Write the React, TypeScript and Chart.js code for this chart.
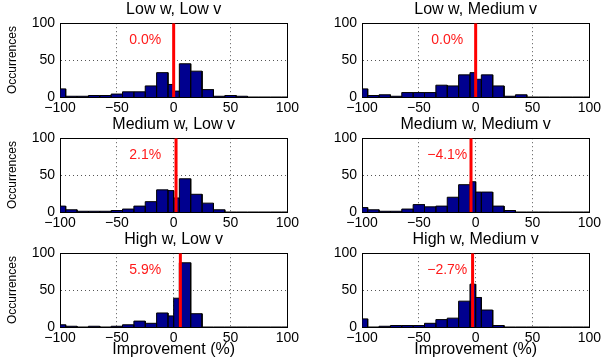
import React, { useEffect, useRef } from "react";
import { Chart, registerables } from "chart.js";
Chart.register(...registerables);

// Histogram bin edges (%), shared by every panel
const binEdges = [-100, -95, -85, -75, -65, -55, -45, -35, -25, -15, -5, 0, 5, 15, 25, 35, 45, 55, 65, 75, 85, 95, 100];

const panelTitles = [
  "Low w, Low v",
  "Low w, Medium v",
  "Medium w, Low v",
  "Medium w, Medium v",
  "High w, Low v",
  "High w, Medium v",
];

// Occurrences per bin
const countsLowWLowV = [11, 1, 1, 2, 2, 4, 7, 7, 15, 33, 17, 8, 45, 35, 10, 1, 2, 1, 0, 0, 0, 0];
const countsLowWMediumV = [11, 2, 3, 1, 6, 6, 6, 16, 15, 30, 33, 24, 30, 15, 1, 3, 0, 0, 0, 0, 0, 0];
const countsMediumWLowV = [8, 3, 1, 1, 1, 2, 4, 8, 14, 30, 29, 19, 45, 24, 12, 3, 0, 0, 0, 0, 0, 0];
const countsMediumWMediumV = [6, 3, 1, 1, 4, 10, 7, 8, 20, 37, 41, 27, 27, 8, 2, 0, 0, 0, 0, 0, 0, 0];
const countsHighWLowV = [3, 1, 0, 1, 0, 1, 3, 8, 5, 19, 15, 39, 87, 18, 0, 0, 0, 0, 0, 0, 0, 0];
const countsHighWMediumV = [11, 0, 1, 2, 2, 2, 5, 10, 12, 35, 58, 40, 23, 2, 0, 0, 0, 0, 0, 0, 0, 0];

const panelCounts = [
  countsLowWLowV,
  countsLowWMediumV,
  countsMediumWLowV,
  countsMediumWMediumV,
  countsHighWLowV,
  countsHighWMediumV,
];

// Mean improvement (%) shown by the red line and label
const meanImprovement = [0.0, 0.0, 2.1, -4.1, 5.9, -2.7];

const xTicks = [-100, -50, 0, 50, 100];
const yTicks = [0, 50, 100];
const xGridValues = [-50, 0, 50];
const yGridValues = [50];

const FONT = '"Liberation Sans", Arial, Helvetica, sans-serif';
const BAR_FILL = "#00008F";

function fmt(v: number): string {
  const s = Math.abs(v).toFixed(0);
  return v < 0 ? "\u2212" + s : s;
}
function fmtPct(v: number): string {
  const s = Math.abs(v).toFixed(1) + "%";
  return v < 0 ? "\u2212" + s : s;
}

function histPoints(counts: number[]) {
  const pts: { x: number; y: number }[] = [];
  counts.forEach((c, i) => {
    const a = binEdges[i];
    const b = binEdges[i + 1];
    pts.push({ x: a, y: 0 }, { x: a, y: c }, { x: b, y: c }, { x: b, y: 0 });
  });
  return pts;
}

const meanLabelPlugin = {
  id: "meanLabel",
  afterDatasetsDraw(chart: any, _args: any, opts: any) {
    const { ctx, scales } = chart;
    const x = scales.x;
    const y = scales.y;
    ctx.save();
    ctx.fillStyle = "#ff1a1a";
    ctx.font = "14px " + FONT;
    ctx.textAlign = "center";
    ctx.textBaseline = "middle";
    ctx.fillText(opts.text, x.getPixelForValue(opts.x), y.getPixelForValue(opts.y));
    ctx.restore();
  },
};

type PanelProps = {
  index: number;
  left: number;
  top: number;
  width: number;
  height: number;
  showYTitle: boolean;
  showXTitle: boolean;
};

function Panel({ index, left, top, width, height, showYTitle, showXTitle }: PanelProps) {
  const ref = useRef<HTMLCanvasElement | null>(null);

  useEffect(() => {
    if (!ref.current) return;
    const mean = meanImprovement[index];
    const xAxisHeight = showXTitle ? 35 : 18;
    const chart = new Chart(ref.current, {
      type: "line",
      data: {
        datasets: [
          {
            label: "mean",
            data: [
              { x: mean, y: 0 },
              { x: mean, y: 100 },
            ],
            borderColor: "#ff0000",
            borderWidth: 3,
            pointRadius: 0,
            fill: false,
            order: 1,
          },
          {
            label: "hist",
            data: histPoints(panelCounts[index]),
            borderColor: "#000000",
            borderWidth: 1,
            backgroundColor: BAR_FILL,
            pointRadius: 0,
            tension: 0,
            fill: "origin",
            order: 2,
          },
        ],
      },
      options: {
        responsive: false,
        animation: false,
        devicePixelRatio: 1,
        layout: { padding: { left: 0, right: 14, top: 0, bottom: 0 } },
        plugins: {
          legend: { display: false },
          tooltip: { enabled: false },
          title: {
            display: true,
            text: panelTitles[index],
            fullSize: false,
            color: "#000",
            font: { family: FONT, size: 16, weight: "normal" },
            padding: { top: 0, bottom: 4 },
          },
          meanLabel: { text: fmtPct(mean), x: -25, y: 77 },
        } as any,
        scales: {
          x: {
            type: "linear",
            position: "bottom",
            min: -100,
            max: 100,
            afterBuildTicks: (scale: any) => {
              scale.ticks = xTicks.map((v) => ({ value: v }));
            },
            afterFit: (scale: any) => {
              scale.height = xAxisHeight;
            },
            ticks: {
              color: "#000",
              font: { family: FONT, size: 14 },
              padding: 3,
              maxRotation: 0,
              autoSkip: false,
              callback: (v: any) => fmt(Number(v)),
            },
            grid: {
              drawTicks: false,
              color: (ctx: any) =>
                ctx.tick && xGridValues.includes(ctx.tick.value) ? "#555" : "rgba(0,0,0,0)",
              lineWidth: 1,
            },
            border: { display: true, color: "#000", width: 1, dash: [1, 3] },
            title: {
              display: showXTitle,
              text: "Improvement (%)",
              color: "#000",
              font: { family: FONT, size: 16 },
              padding: { top: 0, bottom: 3 },
            },
          },
          y: {
            type: "linear",
            position: "left",
            min: 0,
            max: 100,
            afterBuildTicks: (scale: any) => {
              scale.ticks = yTicks.map((v) => ({ value: v }));
            },
            afterFit: (scale: any) => {
              scale.width = 60;
            },
            ticks: {
              color: "#000",
              font: { family: FONT, size: 14 },
              padding: 5,
              autoSkip: false,
              callback: (v: any) => fmt(Number(v)),
            },
            grid: {
              drawTicks: false,
              color: (ctx: any) =>
                ctx.tick && yGridValues.includes(ctx.tick.value) ? "#555" : "rgba(0,0,0,0)",
              lineWidth: 1,
            },
            border: { display: true, color: "#000", width: 1, dash: [1, 3] },
            title: {
              display: showYTitle,
              text: "Occurrences",
              color: "#000",
              font: { family: FONT, size: 12 },
              padding: { top: 5, bottom: 0 },
            },
          },
          x2: {
            type: "linear",
            position: "top",
            min: -100,
            max: 100,
            ticks: { display: false },
            grid: { display: false, drawTicks: false },
            border: { display: true, color: "#000", width: 1 },
            afterFit: (scale: any) => {
              scale.height = 0;
            },
          },
          y2: {
            type: "linear",
            position: "right",
            min: 0,
            max: 100,
            ticks: { display: false },
            grid: { display: false, drawTicks: false },
            border: { display: true, color: "#000", width: 1 },
            afterFit: (scale: any) => {
              scale.width = 0;
            },
          },
        },
      } as any,
      plugins: [meanLabelPlugin as any],
    });
    return () => chart.destroy();
  }, [index, showXTitle, showYTitle]);

  return (
    <div style={{ position: "absolute", left, top, width, height }}>
      <canvas ref={ref} width={width} height={height} />
    </div>
  );
}

export default function App() {
  return (
    <div
      style={{
        position: "absolute",
        left: 0,
        top: 0,
        width: 604,
        height: 362,
        background: "#fff",
        overflow: "hidden",
      }}
    >
      {panelTitles.map((_, i) => {
        const row = Math.floor(i / 2);
        const col = i % 2;
        return (
          <Panel
            key={i}
            index={i}
            left={col * 302}
            top={row * 115}
            width={302}
            height={row === 2 ? 132 : 115}
            showYTitle={col === 0}
            showXTitle={row === 2}
          />
        );
      })}
    </div>
  );
}
